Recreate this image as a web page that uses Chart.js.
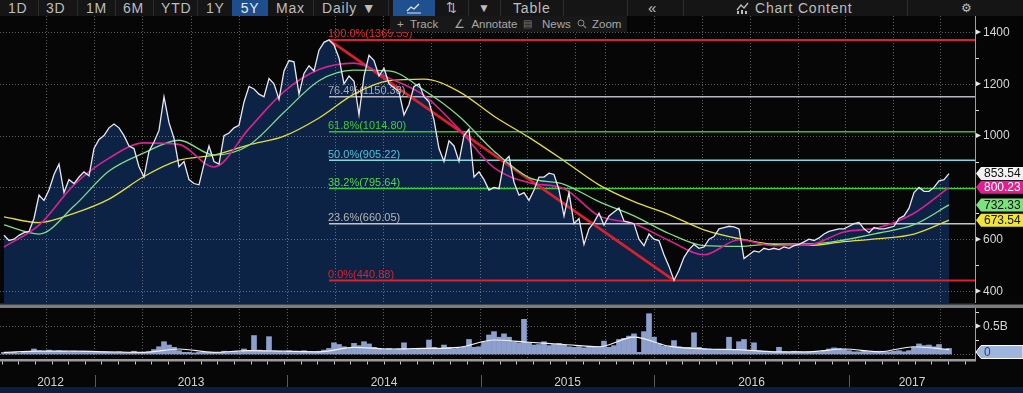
<!DOCTYPE html>
<html><head><meta charset="utf-8">
<script src="https://cdn.jsdelivr.net/npm/chart.js@4.4.1/dist/chart.umd.min.js"></script>
<style>
html,body{margin:0;padding:0;background:#050505;width:1023px;height:393px;overflow:hidden;font-family:"Liberation Sans",Arial,sans-serif;}
#wrap{position:relative;width:1023px;height:393px;background:#050505;}
canvas{position:absolute;left:0;}
#top{position:absolute;left:0;top:0;width:1023px;height:16px;background:#151515;}
.tb{position:absolute;top:0;height:16px;line-height:16px;font-size:14px;color:#bdbdbd;letter-spacing:0.8px;white-space:nowrap;}
.sep{position:absolute;top:0;width:1px;height:16px;background:#2c2c2c;}
#row2{position:absolute;left:390px;top:16px;width:237px;height:16px;background:#181818;}
.r2{position:absolute;top:16px;height:16px;line-height:16px;font-size:11.5px;color:#a8a8a8;white-space:nowrap;}
#bottom{position:absolute;left:0;top:387px;width:1023px;height:6px;background:#0c1e3b;}
</style></head>
<body><div id="wrap">
<canvas id="main" width="1023" height="287" style="top:16px"></canvas>
<canvas id="vol" width="1023" height="90" style="top:303px"></canvas>
<div id="top"></div>
<div class="tb" style="left:8px">1D</div>
<div class="sep" style="left:38px"></div>
<div class="tb" style="left:46px">3D</div>
<div class="sep" style="left:77px"></div>
<div class="tb" style="left:86px">1M</div>
<div class="sep" style="left:115px"></div>
<div class="tb" style="left:123px">6M</div>
<div class="sep" style="left:153px"></div>
<div class="tb" style="left:161px">YTD</div>
<div class="sep" style="left:197px"></div>
<div class="tb" style="left:206px">1Y</div>
<div class="tb" style="left:232px;width:36px;background:#1d4d8d;color:#e4ecf7;text-align:center;">5Y</div>
<div class="tb" style="left:276px">Max</div>
<div class="sep" style="left:313px"></div>
<div class="tb" style="left:322px">Daily ▼</div>
<div class="sep" style="left:388px"></div>
<div class="tb" style="left:393px;width:42px;background:#1f5190;text-align:center;">
<svg width="16" height="12" viewBox="0 0 16 12" style="vertical-align:-1px"><polyline points="1,9 5,5 8,7 13,2" fill="none" stroke="#dfe8f5" stroke-width="1.3"/><line x1="1" y1="11" x2="15" y2="11" stroke="#dfe8f5" stroke-width="1"/></svg></div>
<div class="tb" style="left:446px;font-size:13px">⇅</div>
<div class="sep" style="left:468px"></div>
<div class="tb" style="left:478px;font-size:12px">▼</div>
<div class="sep" style="left:500px"></div>
<div class="tb" style="left:513px">Table</div>
<div class="sep" style="left:563px"></div>
<div class="sep" style="left:627px"></div>
<div class="tb" style="left:648px;font-size:15px">«</div>
<div class="sep" style="left:683px"></div>
<div class="tb" style="left:736px"><svg width="14" height="12" viewBox="0 0 14 12" style="vertical-align:-1px"><polyline points="1,8 5,3 8,6 12,1" fill="none" stroke="#bdbdbd" stroke-width="1.3"/><rect x="1" y="9" width="2" height="3" fill="#bdbdbd"/><rect x="5" y="8" width="2" height="4" fill="#bdbdbd"/><rect x="9" y="9" width="2" height="3" fill="#bdbdbd"/></svg></div>
<div class="tb" style="left:755px">Chart Content</div>
<div class="sep" style="left:907px"></div>
<div class="tb" style="left:961px;font-size:12px">⚙</div>
<div id="row2"></div>
<div class="r2" style="left:397px">+&nbsp; Track</div>
<div class="r2" style="left:454px">∠ &nbsp;Annotate</div>
<div class="r2" style="left:523px;font-size:10px;color:#777">▤</div>
<div class="r2" style="left:542px">News</div>
<div class="r2" style="left:577px"><svg width="10" height="10" viewBox="0 0 10 10" style="vertical-align:-1px"><circle cx="4" cy="4" r="3" fill="none" stroke="#888" stroke-width="1"/><line x1="6.2" y1="6.2" x2="9" y2="9" stroke="#888" stroke-width="1.2"/></svg></div>
<div class="r2" style="left:592px">Zoom</div>
<div id="bottom"></div>
</div>
<script>
// ---------- data (one price point per week index) ----------
const priceValues = [
615,595,600,615,625,630,680,770,750,790,850,890,780,830,815,840,860,845,
950,985,1000,1030,1045,1030,1000,960,950,880,840,940,975,1020,1150,1050,990,880,
900,830,815,810,890,960,900,890,1000,1010,1030,1040,1130,1190,1180,1160,1150,1220,
1200,1140,1250,1290,1285,1160,1240,1270,1250,1330,1360,1369.55,1350,1300,1200,1230,
1210,1080,1230,1310,1290,1230,1260,1200,1185,1170,1080,1120,1190,1200,1150,1130,1060,
950,900,980,960,900,1000,1025,840,860,830,790,800,795,900,920,820,770,780,750,790,
840,840,855,850,790,690,780,660,680,580,640,665,700,655,690,705,720,670,665,660,600,
575,620,600,595,540,495,440.88,480,530,560,580,565,570,600,610,640,645,650,648,640,
525,540,555,550,565,560,565,560,570,565,575,580,590,600,595,605,620,630,635,640,640,
650,660,665,640,625,645,640,640,645,650,680,690,720,780,800,785,785,800,825,830,853.54
];
const volumeValues = [
0.03,0.02,0.03,0.02,0.03,0.03,
0.09,0.06,0.05,0.07,0.05,0.06,0.05,0.04,0.05,0.04,0.05,0.04,
0.03,0.03,0.04,0.03,0.03,0.04,0.03,0.03,0.05,0.03,0.03,0.04,
0.08,0.13,0.22,0.16,0.12,0.06,
0.03,0.03,0.02,0.03,0.03,0.03,0.02,0.03,0.05,0.03,0.05,0.04,
0.09,0.06,0.33,0.07,0.06,0.31,0.06,
0.05,0.04,0.06,0.04,0.04,0.06,0.04,0.04,0.05,0.07,0.10,
0.20,0.17,0.13,0.10,0.19,0.15,0.22,0.18,0.12,0.10,
0.08,0.10,0.08,0.09,0.20,0.08,0.08,0.09,
0.10,0.25,0.12,0.10,0.16,0.12,0.09,0.10,0.13,0.26,0.12,
0.13,0.22,0.34,0.40,0.30,0.36,0.30,0.22,0.20,
0.62,0.20,0.16,0.17,0.22,0.15,0.17,0.19,0.16,0.13,
0.12,0.13,0.11,0.14,0.12,0.13,0.23,0.12,0.15,0.26,
0.28,0.32,0.36,0.03,0.40,0.72,0.30,0.18,0.14,0.13,
0.24,0.13,0.12,0.12,0.38,0.12,0.10,0.09,0.08,0.08,
0.07,0.30,0.08,0.22,0.26,0.06,0.20,0.06,0.05,0.04,
0.04,0.12,0.04,0.03,0.05,0.04,0.03,0.04,0.03,0.04,
0.06,0.09,0.11,0.10,0.08,0.06,0.04,0.04,0.05,
0.04,0.03,0.05,0.04,0.04,0.05,0.06,0.04,0.06,0.12,
0.18,0.15,0.16,0.13,0.17,0.08,0.10
];
// moving averages sampled every 7 week-indexes
const maStep = 7;
const ma50Values  = [570,654,810,913,972,966,879,1027,1170,1255,1280,1222,1155,1025,876,818,795,690,660,595,540,598,575,578,628,645,700,800.23];
const ma100Values = [655,620,728,863,933,982,925,963,1090,1212,1253,1250,1175,1075,940,838,812,745,690,622,575,572,582,582,597,624,656,732.33];
const ma200Values = [686,664,700,755,842,905,925,964,998,1068,1160,1212,1218,1170,1075,993,903,810,745,695,636,602,580,576,591,602,620,673.54];
const volAvgValues = [0.03,0.05,0.05,0.04,0.03,0.09,0.03,0.06,0.05,0.04,0.12,0.09,0.10,0.12,0.25,0.21,0.17,0.13,0.30,0.14,0.09,0.08,0.04,0.04,0.09,0.04,0.13,0.08];
// Fibonacci retracement
const peakIndex = 65, troughIndex = 134;
const fibPercents = ['100.0%','76.4%','61.8%','50.0%','38.2%','23.6%','0.0%'];
const fibValues = [1369.55,1150.38,1014.80,905.22,795.64,660.05,440.88];
// axes
const priceTicks = [400,600,1000,1200,1400];
const priceMinorTicks = [500,700,900,1100,1300];
const priceGrid = [400,600,800,1000,1200,1400];
const volTicks = [0.5];
const volTickLabels = ['0.5B'];
const yearLabels = ['2012','2013','2014','2015','2016','2017'];
const yearBounds = [18.2,56.6,95.4,130,169];
const gridIdx = [8.4,18,27.6,37.4,47,56.6,66.2,75.8,85.4,95.2,104.6,114.2,120.2,130,139.6,149.2,158.8,168.2,177.8,187.2];
const lastLabels = [
  {v:853.54, text:'853.54', bg:'#f2f2f2', fg:'#111'},
  {v:800.23, text:'800.23', bg:'#e0208f', fg:'#fff'},
  {v:732.33, text:'732.33', bg:'#7ce27c', fg:'#111'},
  {v:673.54, text:'673.54', bg:'#f0e43c', fg:'#111'}
];
// ---------- styles ----------
const fibLineColors = ['#d8232f','#b8b8c2','#2fc42f','#86d8e0','#3dcc3d','#c4c4c4','#d8232f'];
const fibTextColors = ['#e02a35','#a9a9b6','#3ccc3c','#4fc3dc','#4ed84e','#b6b6b6','#d8232f'];
const X_MIN = -0.8, X_MAX = 194.2;
const FONT = '"Liberation Sans", Arial, sans-serif';

const pts = (arr, step) => arr.map((v, i) => ({x: i * step, y: v}));

function dottedLine(ctx, x1, y1, x2, y2) { ctx.beginPath(); ctx.moveTo(x1, y1); ctx.lineTo(x2, y2); ctx.stroke(); }
function tag(ctx, y, text, bg, fg, stroke) {
  const h = 13, xl = 976, xb = 981, xr = 1023;
  ctx.beginPath();
  ctx.moveTo(xl, y); ctx.lineTo(xb, y - h / 2); ctx.lineTo(xr, y - h / 2); ctx.lineTo(xr, y + h / 2); ctx.lineTo(xb, y + h / 2); ctx.closePath();
  ctx.fillStyle = bg; ctx.fill();
  if (stroke) { ctx.strokeStyle = stroke; ctx.lineWidth = 1; ctx.stroke(); }
  ctx.fillStyle = fg; ctx.font = '12px ' + FONT; ctx.textBaseline = 'middle'; ctx.textAlign = 'left';
  ctx.fillText(text, 984, y + 0.5);
}
function tri(ctx, x, y) { ctx.beginPath(); ctx.moveTo(x, y - 2.5); ctx.lineTo(x + 5, y); ctx.lineTo(x, y + 2.5); ctx.closePath(); ctx.fill(); }

const mainDeco = {
  id: 'mainDeco',
  beforeDraw(c) { const ctx = c.ctx; ctx.save(); ctx.fillStyle = '#060606'; ctx.fillRect(0, 0, c.width, c.height); ctx.restore(); },
  afterDatasetDraw(c, args) {
    const ds = c.data.datasets[args.index]; const ctx = c.ctx; const a = c.chartArea;
    const xs = c.scales.x, ys = c.scales.y;
    if (ds.label === 'fill') {
      ctx.save(); ctx.strokeStyle = 'rgba(170,170,170,0.55)'; ctx.lineWidth = 1; ctx.setLineDash([1, 2]);
      gridIdx.forEach(g => { const x = Math.round(xs.getPixelForValue(g)) + 0.5; dottedLine(ctx, x, a.top, x, a.bottom); });
      priceGrid.forEach(v => { const y = Math.round(ys.getPixelForValue(v)) + 0.5; dottedLine(ctx, a.left, y, a.right, y); });
      ctx.restore();
    }
    if (ds.label === 'trend') {
      ctx.save(); ctx.font = '11px ' + FONT; ctx.textBaseline = 'alphabetic'; ctx.textAlign = 'left';
      const x0 = xs.getPixelForValue(peakIndex) - 1;
      fibValues.forEach((v, i) => {
        ctx.fillStyle = fibTextColors[i];
        ctx.fillText(fibPercents[i] + '(' + v.toFixed(2) + ')', x0, ys.getPixelForValue(v) - 2.5);
      });
      ctx.restore();
    }
  },
  afterDraw(c) {
    const ctx = c.ctx; const a = c.chartArea; const ys = c.scales.y;
    ctx.save();
    ctx.fillStyle = '#050505'; ctx.fillRect(a.right + 1, 0, c.width - a.right, c.height);
    ctx.strokeStyle = '#a0a0a0'; ctx.lineWidth = 1; ctx.beginPath(); ctx.moveTo(a.right + 0.5, 0); ctx.lineTo(a.right + 0.5, a.bottom); ctx.stroke();
    ctx.fillStyle = '#e0e0e0';
    priceMinorTicks.forEach(v => { const y = Math.round(ys.getPixelForValue(v)); ctx.fillRect(a.right + 1, y, 3, 1); });
    ctx.font = '12px ' + FONT; ctx.textBaseline = 'middle'; ctx.textAlign = 'left';
    priceTicks.forEach(v => {
      const y = ys.getPixelForValue(v);
      ctx.fillStyle = '#e6e6e6'; tri(ctx, a.right + 1, y);
      ctx.fillStyle = '#d6d6d6'; ctx.fillText(String(v), 983, y + 0.5);
    });
    lastLabels.forEach(l => tag(ctx, ys.getPixelForValue(l.v), l.text, l.bg, l.fg));
    ctx.restore();
  }
};

const mainChart = new Chart(document.getElementById('main'), {
  type: 'line',
  data: {
    datasets: [
      {label: 'price', data: pts(priceValues, 1), borderColor: '#e8e8f2', borderWidth: 1.3, pointRadius: 0, tension: 0, order: 0},
      {label: 'ma50', data: pts(ma50Values, maStep), borderColor: '#d6238f', borderWidth: 1.6, pointRadius: 0, cubicInterpolationMode: 'monotone', order: 1},
      {label: 'ma100', data: pts(ma100Values, maStep), borderColor: '#7fdc8a', borderWidth: 1.3, pointRadius: 0, cubicInterpolationMode: 'monotone', order: 2},
      {label: 'ma200', data: pts(ma200Values, maStep), borderColor: '#e4dc3e', borderWidth: 1.3, pointRadius: 0, cubicInterpolationMode: 'monotone', order: 3},
      {label: 'trend', data: [{x: peakIndex, y: fibValues[0]}, {x: troughIndex, y: fibValues[6]}], borderColor: '#d9202c', borderWidth: 2.6, pointRadius: 0, order: 4},
      ...fibValues.map((v, i) => ({label: 'fib' + i, data: [{x: peakIndex, y: v}, {x: X_MAX, y: v}], borderColor: fibLineColors[i], borderWidth: (i === 0 || i === 6) ? 2 : 1.5, pointRadius: 0, order: 5})),
      {label: 'fill', data: pts(priceValues, 1), borderWidth: 0, borderColor: 'rgba(0,0,0,0)', pointRadius: 0, fill: 'start', backgroundColor: '#0d2345', order: 10}
    ]
  },
  options: {
    responsive: false, animation: false, devicePixelRatio: 1,
    layout: {padding: {left: 0, right: 48, top: 0, bottom: 0}},
    plugins: {legend: {display: false}, tooltip: {enabled: false}},
    scales: {
      x: {type: 'linear', min: X_MIN, max: X_MAX, display: false},
      y: {type: 'linear', min: 353.7, max: 1461.8, display: false}
    }
  },
  plugins: [mainDeco]
});

const volDeco = {
  id: 'volDeco',
  beforeDraw(c) {
    const ctx = c.ctx; ctx.save(); ctx.fillStyle = '#060606'; ctx.fillRect(0, 0, c.width, c.height);
    ctx.fillStyle = '#0d2345'; ctx.fillRect(0, 0, c.chartArea.right, 1.5);
    ctx.fillStyle = '#7c7c7c'; ctx.fillRect(0, 1.5, c.width, 3.5);
    ctx.restore();
  },
  beforeDatasetsDraw(c) {
    const ctx = c.ctx; const a = c.chartArea; const xs = c.scales.x, ys = c.scales.y;
    ctx.save(); ctx.strokeStyle = 'rgba(170,170,170,0.55)'; ctx.lineWidth = 1; ctx.setLineDash([1, 2]);
    gridIdx.forEach(g => { const x = Math.round(xs.getPixelForValue(g)) + 0.5; dottedLine(ctx, x, a.top, x, a.bottom); });
    [0, 0.5].forEach(v => { const y = Math.round(ys.getPixelForValue(v)) + 0.5; dottedLine(ctx, a.left, y, a.right, y); });
    ctx.restore();
  },
  afterDraw(c) {
    const ctx = c.ctx; const a = c.chartArea; const xs = c.scales.x, ys = c.scales.y;
    ctx.save();
    ctx.fillStyle = '#050505'; ctx.fillRect(a.right + 1, 5, c.width - a.right, a.bottom - 5);
    // axis band + ticks
    ctx.fillStyle = '#9a9a9a'; ctx.fillRect(0, a.bottom, a.right + 1, 2.5);
    ctx.fillStyle = '#c8c8c8';
    for (let x = 1.7; x < a.right; x += 16.6) ctx.fillRect(Math.round(x), a.bottom + 2.5, 1, 3);
    ctx.strokeStyle = '#a0a0a0'; ctx.lineWidth = 1; ctx.beginPath(); ctx.moveTo(a.right + 0.5, 5); ctx.lineTo(a.right + 0.5, a.bottom + 2); ctx.stroke();
    // year separators and labels
    ctx.strokeStyle = '#5a5a5a';
    yearBounds.forEach(b => { const x = Math.round(xs.getPixelForValue(b)) + 0.5; ctx.beginPath(); ctx.moveTo(x, 72); ctx.lineTo(x, 87); ctx.stroke(); });
    ctx.fillStyle = '#d2d2d2'; ctx.font = '12px ' + FONT; ctx.textAlign = 'center'; ctx.textBaseline = 'middle';
    const edges = [X_MIN + 1.2, ...yearBounds, X_MAX];
    yearLabels.forEach((t, i) => { const x = (xs.getPixelForValue(edges[i]) + xs.getPixelForValue(edges[i + 1])) / 2; ctx.fillText(t, x, 79.5); });
    // right axis
    ctx.fillStyle = '#e0e0e0';
    [0.25, 0.75].forEach(v => ctx.fillRect(a.right + 1, Math.round(ys.getPixelForValue(v)), 3, 1));
    ctx.textAlign = 'left';
    volTicks.forEach((v, i) => { const y = ys.getPixelForValue(v); ctx.fillStyle = '#e6e6e6'; tri(ctx, a.right + 1, y); ctx.fillStyle = '#d6d6d6'; ctx.fillText(volTickLabels[i], 983, y + 0.5); });
    tag(ctx, ys.getPixelForValue(0) - 2, '0', '#9fb5dc', '#1e3f7a', '#ffffff');
    ctx.restore();
  }
};

const volChart = new Chart(document.getElementById('vol'), {
  type: 'bar',
  data: {
    datasets: [
      {type: 'line', label: 'avg', data: pts(volAvgValues, maStep), borderColor: '#f2f2f2', borderWidth: 1.2, pointRadius: 0, cubicInterpolationMode: 'monotone', order: 0},
      {type: 'bar', label: 'volume', data: pts(volumeValues, 1), backgroundColor: '#8c9fcd', barPercentage: 1, categoryPercentage: 1, order: 1}
    ]
  },
  options: {
    responsive: false, animation: false, devicePixelRatio: 1,
    layout: {padding: {left: 0, right: 48, top: 6, bottom: 34}},
    plugins: {legend: {display: false}, tooltip: {enabled: false}},
    scales: {
      x: {type: 'linear', min: X_MIN, max: X_MAX, display: false, offset: false},
      y: {type: 'linear', min: -0.089, max: 0.804, display: false}
    }
  },
  plugins: [volDeco]
});
</script>
</body></html>
